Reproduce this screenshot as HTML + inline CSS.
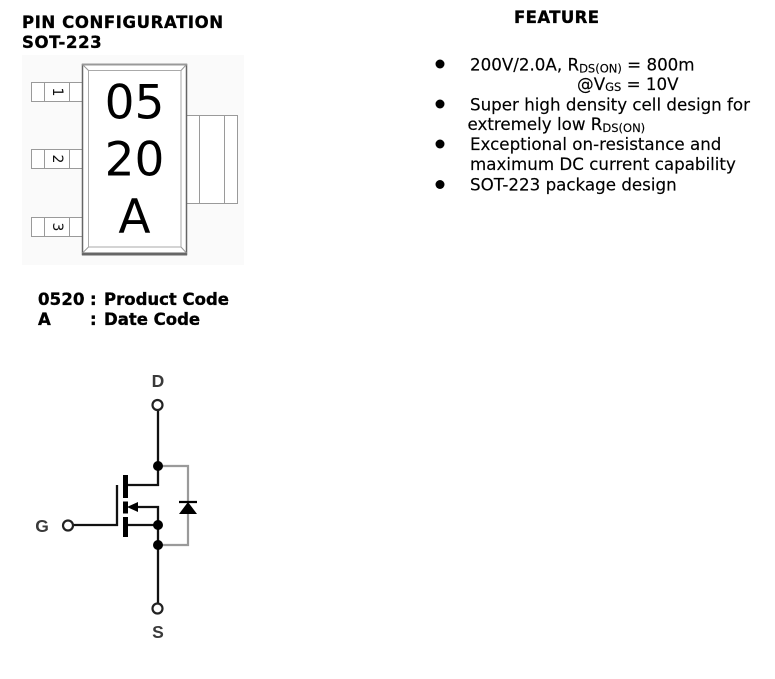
<!DOCTYPE html>
<html>
<head>
<meta charset="utf-8">
<style>
  html, body { margin: 0; padding: 0; background: #ffffff; }
  body { width: 775px; height: 679px; overflow: hidden; }
  svg { display: block; }
  .hdr { font-family: "DejaVu Sans", "Liberation Sans", sans-serif; font-weight: bold; font-size: 16.5px; fill: #000; stroke: #000; stroke-width: 0.35px; }
  .feat { font-family: "DejaVu Sans", "Liberation Sans", sans-serif; font-size: 16.7px; fill: #000; stroke: #000; stroke-width: 0.15px; }
  .sub { font-size: 11.5px; }
  .lbl { font-family: "Liberation Sans", "DejaVu Sans", sans-serif; font-weight: bold; font-size: 17.5px; fill: #3a3a3a; }
</style>
</head>
<body>
<svg width="775" height="679" viewBox="0 0 775 679" xmlns="http://www.w3.org/2000/svg">
  <!-- Headers -->
  <text class="hdr" x="22" y="28" letter-spacing="0.6">PIN CONFIGURATION</text>
  <text class="hdr" x="22" y="48" letter-spacing="0.6">SOT-223</text>
  <text class="hdr" x="514" y="23" letter-spacing="0.4">FEATURE</text>

  <!-- Package drawing background -->
  <rect x="22" y="55" width="222" height="210" fill="#fafafa"/>

  <!-- Pins -->
  <g fill="#ffffff" stroke="#9a9a9a" stroke-width="1">
    <rect x="31.5" y="82.5" width="52" height="19"/>
    <line x1="44.5" y1="82.5" x2="44.5" y2="101.5"/>
    <line x1="69.5" y1="82.5" x2="69.5" y2="101.5"/>
    <rect x="31.5" y="149.5" width="52" height="19"/>
    <line x1="44.5" y1="149.5" x2="44.5" y2="168.5"/>
    <line x1="69.5" y1="149.5" x2="69.5" y2="168.5"/>
    <rect x="31.5" y="217.5" width="52" height="19"/>
    <line x1="44.5" y1="217.5" x2="44.5" y2="236.5"/>
    <line x1="69.5" y1="217.5" x2="69.5" y2="236.5"/>
  </g>
  <g font-family="DejaVu Sans, Liberation Sans, sans-serif" font-size="14" fill="#111" text-anchor="middle">
    <text x="0" y="0" dominant-baseline="central" transform="translate(57,92) rotate(90)">1</text>
    <text x="0" y="0" dominant-baseline="central" transform="translate(57,159) rotate(90)">2</text>
    <text x="0" y="0" dominant-baseline="central" transform="translate(57,227) rotate(90)">3</text>
  </g>

  <!-- Tab -->
  <g fill="#ffffff" stroke="#9a9a9a" stroke-width="1">
    <rect x="186.5" y="115.5" width="51" height="88"/>
    <line x1="199.5" y1="115.5" x2="199.5" y2="203.5"/>
    <line x1="224.5" y1="115.5" x2="224.5" y2="203.5"/>
  </g>

  <!-- Body -->
  <rect x="82.5" y="64.5" width="104" height="190" fill="#ffffff" stroke="#666" stroke-width="1.5"/>
  <line x1="82" y1="64.5" x2="187" y2="64.5" stroke="#999" stroke-width="2"/>
  <line x1="82" y1="254" x2="187" y2="254" stroke="#666" stroke-width="3"/>
  <rect x="88.5" y="70.5" width="92.5" height="176.5" fill="#ffffff" stroke="#aaa" stroke-width="1"/>
  <g stroke="#999" stroke-width="1">
    <line x1="82.5" y1="64.5" x2="88.5" y2="70.5"/>
    <line x1="186.5" y1="64.5" x2="181" y2="70.5"/>
    <line x1="82.5" y1="253" x2="88.5" y2="247"/>
    <line x1="186.5" y1="253" x2="181" y2="247"/>
  </g>
  <g font-family="DejaVu Sans, Liberation Sans, sans-serif" font-size="47" fill="#000" text-anchor="middle">
    <text x="134.5" y="118.5">05</text>
    <text x="134.5" y="175.5">20</text>
    <text x="134.5" y="233">A</text>
  </g>

  <!-- Code legend -->
  <text class="hdr" x="38" y="305" letter-spacing="0.2">0520</text>
  <text class="hdr" x="90" y="305">:</text>
  <text class="hdr" x="104" y="305">Product Code</text>
  <text class="hdr" x="38" y="325">A</text>
  <text class="hdr" x="90" y="325">:</text>
  <text class="hdr" x="104" y="325">Date Code</text>

  <!-- Features -->
  <g fill="#000">
    <circle cx="440" cy="64" r="4.5"/>
    <circle cx="440" cy="104" r="4.5"/>
    <circle cx="440" cy="144" r="4.5"/>
    <circle cx="440" cy="184.5" r="4.5"/>
  </g>
  <text class="feat" x="470" y="70.5">200V/2.0A, R<tspan class="sub" dy="2">DS(ON)</tspan><tspan dy="-2"> = 800m</tspan></text>
  <text class="feat" x="577" y="90">@V<tspan class="sub" dy="1">GS</tspan><tspan dy="-1"> = 10V</tspan></text>
  <text class="feat" x="470" y="110.5">Super high density cell design for</text>
  <text class="feat" x="467.5" y="130">extremely low R<tspan class="sub" dy="2">DS(ON)</tspan></text>
  <text class="feat" x="470" y="150">Exceptional on-resistance and</text>
  <text class="feat" x="470" y="170">maximum DC current capability</text>
  <text class="feat" x="470" y="190.5">SOT-223 package design</text>

  <!-- MOSFET symbol -->
  <text class="lbl" x="158" y="387" text-anchor="middle">D</text>
  <text class="lbl" x="42" y="532" text-anchor="middle">G</text>
  <text class="lbl" x="158" y="638" text-anchor="middle">S</text>

  <!-- grey diode loop -->
  <path d="M158 466 H188 V545 H158" fill="none" stroke="#9a9a9a" stroke-width="2.2"/>
  <!-- diode -->
  <line x1="179" y1="502" x2="197" y2="502" stroke="#000" stroke-width="2.2"/>
  <polygon points="188,502 179,514 197,514" fill="#000"/>

  <g stroke="#111" stroke-width="2.3" fill="none">
    <line x1="158" y1="409.5" x2="158" y2="486"/>
    <line x1="126" y1="485" x2="159" y2="485"/>
    <line x1="126" y1="525" x2="158" y2="525"/>
    <path d="M132 507 H158 V604"/>
    <line x1="117" y1="485" x2="117" y2="526"/>
    <line x1="72.5" y1="525" x2="118" y2="525"/>
  </g>
  <!-- channel segments -->
  <g fill="#000">
    <rect x="123" y="475" width="5" height="23"/>
    <rect x="123" y="501.5" width="5" height="12"/>
    <rect x="123" y="517" width="5" height="20"/>
    <polygon points="127,507 138,502 138,512"/>
    <circle cx="158" cy="466" r="5"/>
    <circle cx="158" cy="525" r="5"/>
    <circle cx="158" cy="545" r="5"/>
  </g>
  <!-- terminals -->
  <g fill="#fff" stroke="#222" stroke-width="2.2">
    <circle cx="157.5" cy="405" r="5"/>
    <circle cx="68" cy="525.5" r="5"/>
    <circle cx="157.5" cy="608.5" r="5"/>
  </g>
</svg>
</body>
</html>
